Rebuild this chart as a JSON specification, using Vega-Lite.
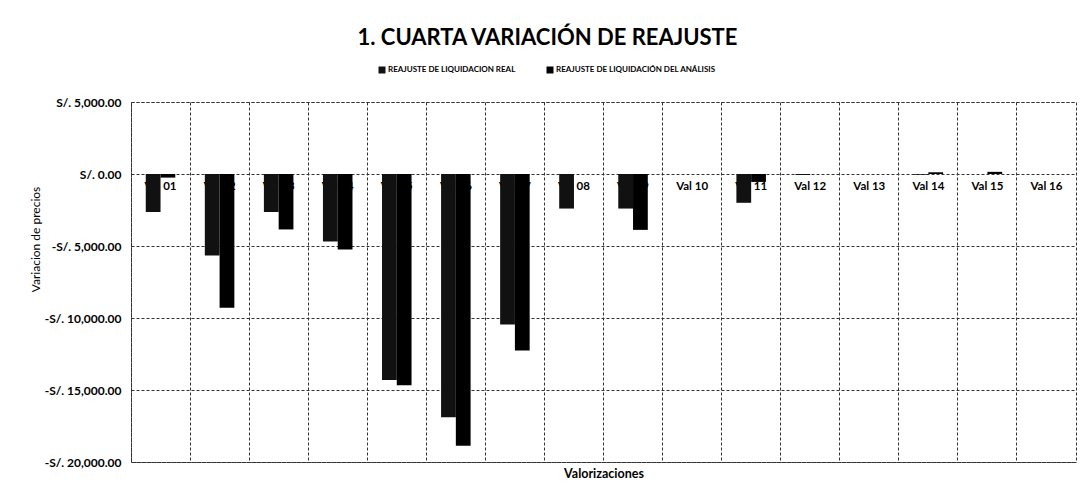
{
  "$schema": "https://vega.github.io/schema/vega-lite/v6.json",
  "width": 945,
  "height": 360,
  "autosize": {"type": "none"},
  "padding": {"left": 131, "top": 102, "right": 9, "bottom": 36},
  "background": "white",
  "title": {"text": "1. CUARTA VARIACIÓN  DE REAJUSTE", "font": "Lato", "fontSize": 22, "fontWeight": "bold", "color": "#000", "anchor": "middle", "dx": -56, "offset": 16},
  "config": {"view": {"stroke": "#333", "strokeDash": [3, 2], "strokeWidth": 1}, "font": "Lato"},
  "data": {"values": [
    {"val": "Val 01", "serie": "REAJUSTE DE LIQUIDACION REAL", "monto": -2640},
    {"val": "Val 01", "serie": "REAJUSTE DE LIQUIDACIÓN DEL ANÁLISIS", "monto": -250},
    {"val": "Val 02", "serie": "REAJUSTE DE LIQUIDACION REAL", "monto": -5660},
    {"val": "Val 02", "serie": "REAJUSTE DE LIQUIDACIÓN DEL ANÁLISIS", "monto": -9280},
    {"val": "Val 03", "serie": "REAJUSTE DE LIQUIDACION REAL", "monto": -2640},
    {"val": "Val 03", "serie": "REAJUSTE DE LIQUIDACIÓN DEL ANÁLISIS", "monto": -3850},
    {"val": "Val 04", "serie": "REAJUSTE DE LIQUIDACION REAL", "monto": -4690},
    {"val": "Val 04", "serie": "REAJUSTE DE LIQUIDACIÓN DEL ANÁLISIS", "monto": -5240},
    {"val": "Val 05", "serie": "REAJUSTE DE LIQUIDACION REAL", "monto": -14300},
    {"val": "Val 05", "serie": "REAJUSTE DE LIQUIDACIÓN DEL ANÁLISIS", "monto": -14670},
    {"val": "Val 06", "serie": "REAJUSTE DE LIQUIDACION REAL", "monto": -16900},
    {"val": "Val 06", "serie": "REAJUSTE DE LIQUIDACIÓN DEL ANÁLISIS", "monto": -18870},
    {"val": "Val 07", "serie": "REAJUSTE DE LIQUIDACION REAL", "monto": -10450},
    {"val": "Val 07", "serie": "REAJUSTE DE LIQUIDACIÓN DEL ANÁLISIS", "monto": -12250},
    {"val": "Val 08", "serie": "REAJUSTE DE LIQUIDACION REAL", "monto": -2400},
    {"val": "Val 08", "serie": "REAJUSTE DE LIQUIDACIÓN DEL ANÁLISIS", "monto": 0},
    {"val": "Val 09", "serie": "REAJUSTE DE LIQUIDACION REAL", "monto": -2400},
    {"val": "Val 09", "serie": "REAJUSTE DE LIQUIDACIÓN DEL ANÁLISIS", "monto": -3880},
    {"val": "Val 10", "serie": "REAJUSTE DE LIQUIDACION REAL", "monto": 0},
    {"val": "Val 10", "serie": "REAJUSTE DE LIQUIDACIÓN DEL ANÁLISIS", "monto": 0},
    {"val": "Val 11", "serie": "REAJUSTE DE LIQUIDACION REAL", "monto": -2000},
    {"val": "Val 11", "serie": "REAJUSTE DE LIQUIDACIÓN DEL ANÁLISIS", "monto": -550},
    {"val": "Val 12", "serie": "REAJUSTE DE LIQUIDACION REAL", "monto": -70},
    {"val": "Val 12", "serie": "REAJUSTE DE LIQUIDACIÓN DEL ANÁLISIS", "monto": 0},
    {"val": "Val 13", "serie": "REAJUSTE DE LIQUIDACION REAL", "monto": 0},
    {"val": "Val 13", "serie": "REAJUSTE DE LIQUIDACIÓN DEL ANÁLISIS", "monto": 0},
    {"val": "Val 14", "serie": "REAJUSTE DE LIQUIDACION REAL", "monto": -50},
    {"val": "Val 14", "serie": "REAJUSTE DE LIQUIDACIÓN DEL ANÁLISIS", "monto": 120},
    {"val": "Val 15", "serie": "REAJUSTE DE LIQUIDACION REAL", "monto": 0},
    {"val": "Val 15", "serie": "REAJUSTE DE LIQUIDACIÓN DEL ANÁLISIS", "monto": 150},
    {"val": "Val 16", "serie": "REAJUSTE DE LIQUIDACION REAL", "monto": 0},
    {"val": "Val 16", "serie": "REAJUSTE DE LIQUIDACIÓN DEL ANÁLISIS", "monto": 0}
  ]},
  "encoding": {
    "x": {
      "field": "val", "type": "nominal",
      "scale": {"paddingInner": 0, "paddingOuter": 0},
      "axis": {"labels": false, "ticks": false, "domain": false, "grid": true, "bandPosition": 0, "gridColor": "#333", "gridDash": [3, 2], "title": "Valorizaciones", "titleFont": "Lato", "titleFontSize": 12.5, "titleFontWeight": "bold", "titleColor": "#000", "titlePadding": 5}
    }
  },
  "layer": [
    {
      "transform": [{"filter": "datum.serie === 'REAJUSTE DE LIQUIDACION REAL'"}],
      "mark": {"type": "text", "font": "Lato", "fontSize": 11.5, "fontWeight": "bold", "color": "#000", "dy": 13, "baseline": "middle"},
      "encoding": {
        "y": {"datum": 0, "type": "quantitative"},
        "text": {"field": "val"}
      }
    },
    {
      "mark": {"type": "bar"},
      "encoding": {
        "xOffset": {"field": "serie", "type": "nominal", "sort": ["REAJUSTE DE LIQUIDACION REAL", "REAJUSTE DE LIQUIDACIÓN DEL ANÁLISIS"], "scale": {"paddingInner": 0, "paddingOuter": 1}},
        "y": {
          "field": "monto", "type": "quantitative",
          "scale": {"domain": [-20000, 5000], "nice": false},
          "axis": {"values": [5000, 0, -5000, -10000, -15000, -20000], "labelExpr": "(datum.value < 0 ? '-' : '') + 'S/. ' + format(abs(datum.value), ',.2f')", "labelFont": "Lato", "labelFontSize": 12, "labelFontWeight": "bold", "labelColor": "#000", "labelPadding": 10, "ticks": false, "domain": false, "grid": true, "gridColor": "#333", "gridDash": [3, 2], "title": "Variacion de precios", "titleFont": "Lato", "titleFontSize": 12, "titleFontWeight": "normal", "titleColor": "#000", "titleX": -96, "titleY": 137, "titleAngle": -90, "titleBaseline": "middle", "titleAlign": "center"}
        },
        "color": {
          "field": "serie", "type": "nominal",
          "sort": ["REAJUSTE DE LIQUIDACION REAL", "REAJUSTE DE LIQUIDACIÓN DEL ANÁLISIS"],
          "scale": {"range": ["#111111", "#000000"]},
          "legend": {"title": null, "orient": "none", "direction": "horizontal", "legendX": 247, "legendY": -36, "symbolType": "square", "symbolSize": 49, "symbolStrokeWidth": 0, "labelFont": "Lato", "labelFontSize": 8, "labelFontWeight": "bold", "labelColor": "#000", "columnPadding": 30, "labelOffset": 2, "labelLimit": 0}
        }
      }
    }
  ]
}
